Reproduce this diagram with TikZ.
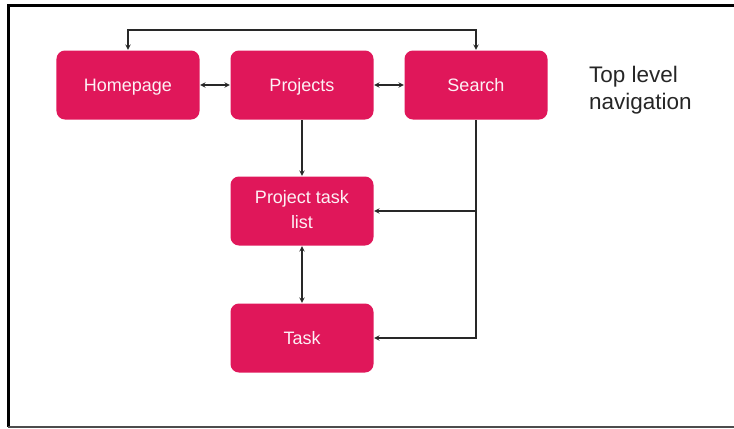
\documentclass[tikz,border=0pt]{standalone}
\usepackage{fontspec}
\setmainfont{Liberation Sans}
\usetikzlibrary{arrows}

\definecolor{navpink}{RGB}{224,23,90}
\definecolor{linegray}{RGB}{40,40,40}

\newcommand{\boxstrut}{\rule[-0.18em]{0pt}{1.08em}}

\begin{document}
\begin{tikzpicture}[
        > = stealth, % arrow head style
        node distance = 4.35cm, % distance between nodes
        line width = 0.75pt, % line style
        draw = linegray
      ]

      \useasboundingbox (-3.2,2.125) rectangle (15.15,-8.575);

      \tikzstyle{page}=[rectangle, rounded corners=6pt, fill=navpink,
        minimum width=3.575cm, minimum height=1.725cm, align=center,
        text=white!94!navpink, font=\fontsize{12.8}{17.5}\selectfont,
        execute at begin node=\boxstrut, execute at end node=\boxstrut]

      % frame
      \draw[line width=1.6pt, black] (15.15,1.9875) -- (-2.9875,1.9875) -- (-2.9875,-8.55);
      \draw[line width=1.2pt, black!70] (-2.9875,-8.55) -- (15.15,-8.55);

      \node[page] (home) {Homepage};
      \node[page] (proj) [right of=home] {Projects};
      \node[page] (srch) [right of=proj] {Search};
      \node[page] (list) [below of=proj, node distance=3.15cm] {Project task\\list};
      \node[page] (task) [below of=list, node distance=3.175cm] {Task};

      \node (nav) [anchor=west, align=left, text=black!85,
        font=\fontsize{16}{19.5}\selectfont] at (11.4,-0.125) {Top level\\navigation};

      \draw[<->] (home.north) -- ++(0,0.5) -| (srch.north);
      \draw[<->] (home) -- (proj);
      \draw[<->] (proj) -- (srch);
      \draw[->] (proj) -- (list);
      \draw[<->] (list) -- (task);
      \draw[->] (srch.south) |- (task.east);
      \draw[->] (srch.south |- list.east) -- (list.east);

    \end{tikzpicture}
\end{document}
